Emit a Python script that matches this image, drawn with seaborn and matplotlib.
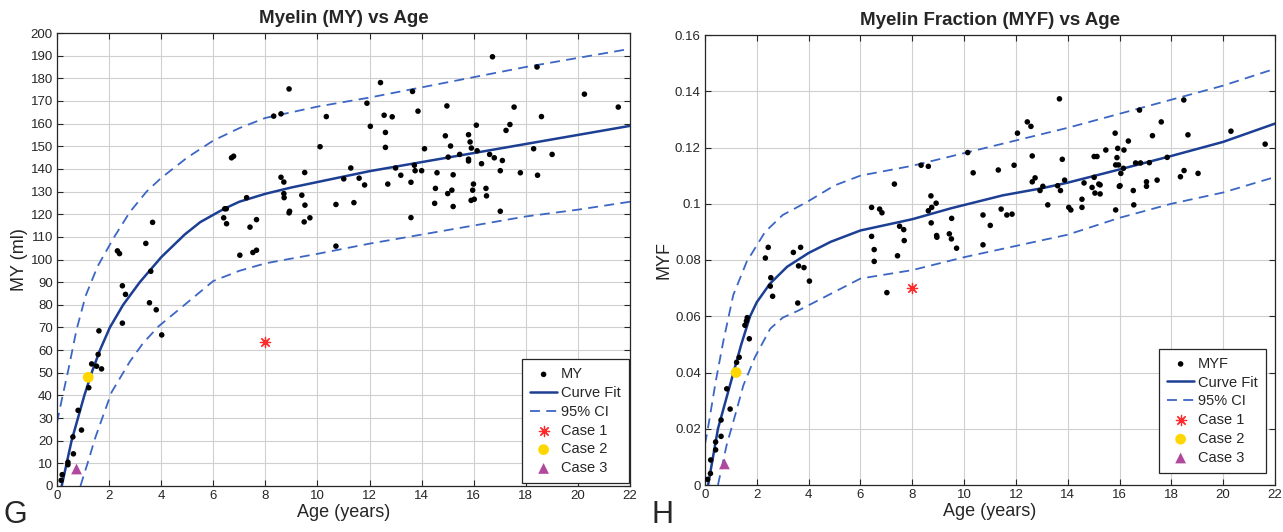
import numpy as np
import pandas as pd
import matplotlib
matplotlib.use("Agg")
import matplotlib.pyplot as plt
import seaborn as sns

# datos: edad (anos) y valores de mielina por sujeto
age_my = [0.16, 0.2, 0.42, 0.42, 0.61, 0.63, 0.81, 0.94, 1.22, 1.33, 1.52, 1.58, 1.61, 1.71,
          2.32, 2.4, 2.51, 2.51, 2.63, 3.41, 3.55, 3.6, 3.67, 3.81, 4.02,
          6.4, 6.44, 6.5, 6.51, 6.7, 6.78, 7.02, 7.28, 7.41, 7.52, 7.66, 7.66,
          8.32, 8.6, 8.6, 8.71, 8.71, 8.72, 8.91, 8.93, 8.91, 9.4, 9.51, 9.52, 9.49, 9.71,
          10.1, 10.34, 10.71, 10.71, 11.01, 11.28, 11.4, 11.6, 11.81, 11.9,
          12.03, 12.42, 12.56, 12.61, 12.61, 12.7, 12.87, 13.0, 13.2, 13.59, 13.59, 13.65,
          13.72, 13.75, 13.86, 14.0, 14.11, 14.5, 14.53, 14.59, 14.91, 14.97, 15.02, 15.0,
          15.11, 15.16, 15.21, 15.21, 15.46, 15.8, 15.8, 15.8, 15.86, 15.91, 15.9, 15.96,
          15.99, 16.02, 16.1, 16.13, 16.3, 16.47, 16.49, 16.61, 16.72, 16.79, 17.02, 17.02,
          17.1, 17.24, 17.39, 17.55, 17.79, 18.3, 18.43, 18.45, 18.6, 19.01, 20.25, 21.55]
my_vals = [2.5, 5, 9.4, 10.5, 21.7, 14.2, 33.4, 24.7, 43.4, 53.9, 52.9, 58.1, 68.5, 51.7,
           103.8, 102.6, 88.4, 71.9, 84.6, 107.1, 80.9, 94.8, 116.4, 77.8, 66.7,
           118.4, 122.4, 122.4, 115.8, 144.9, 145.6, 101.9, 127.3, 114.3, 103.1, 117.6, 104.1,
           163.3, 164.3, 136.3, 134.2, 129.1, 127.3, 175.3, 121.3, 120.6, 128.4, 138.4, 124.0, 116.6, 118.4,
           149.8, 163.1, 124.3, 105.9, 135.6, 140.4, 125.1, 135.9, 132.9, 169.0,
           158.8, 178.1, 163.7, 156.1, 149.5, 133.3, 163.0, 140.4, 137.2, 134.1, 118.5, 174.2,
           141.6, 139.2, 165.5, 139.2, 148.9, 124.8, 131.4, 138.3, 154.6, 167.8, 145.2, 129.1,
           150.1, 130.6, 137.4, 123.4, 146.4, 155.1, 143.5, 144.3, 151.9, 149.2, 126.1, 130.6,
           133.3, 126.6, 159.3, 148.0, 142.3, 131.4, 128.1, 146.4, 189.5, 144.9, 139.2, 121.3,
           143.7, 157.0, 159.6, 167.3, 138.3, 148.9, 185.0, 137.2, 163.1, 146.4, 173.0, 167.3]

age_myf = [0.1, 0.21, 0.22, 0.41, 0.41, 0.62, 0.62, 0.84, 0.97, 1.22, 1.32, 1.54, 1.6, 1.63, 1.71,
           2.33, 2.44, 2.54, 2.52, 2.61, 3.41, 3.58, 3.61, 3.69, 3.82, 4.03,
           6.43, 6.43, 6.53, 6.53, 6.74, 6.83, 7.02, 7.31, 7.43, 7.51, 7.67, 7.69,
           8.34, 8.62, 8.62, 8.72, 8.73, 8.75, 8.92, 8.94, 8.95, 9.43, 9.51, 9.52, 9.71,
           10.14, 10.35, 10.73, 10.73, 11.01, 11.32, 11.43, 11.65, 11.85, 11.93,
           12.06, 12.44, 12.58, 12.63, 12.63, 12.74, 12.93, 13.04, 13.23, 13.61, 13.68, 13.72,
           13.79, 13.88, 14.04, 14.12, 14.55, 14.55, 14.63, 14.94, 15.02, 15.02, 15.05, 15.13,
           15.2, 15.25, 15.25, 15.47, 15.83, 15.85, 15.85, 15.9, 15.93, 15.96, 15.99, 16.05,
           16.02, 16.15, 16.17, 16.34, 16.53, 16.55, 16.62, 16.77, 16.81, 17.04, 17.04, 17.15,
           17.27, 17.45, 17.61, 17.84, 18.35, 18.48, 18.49, 18.64, 19.03, 20.3, 21.62]
myf_vals = [0.002, 0.0041, 0.0089, 0.0125, 0.0153, 0.0173, 0.0231, 0.0342, 0.027, 0.0436, 0.0454,
            0.0568, 0.0583, 0.0595, 0.052,
            0.0807, 0.0845, 0.0737, 0.0707, 0.0671, 0.0827, 0.0647, 0.0779, 0.0845, 0.0773, 0.0725,
            0.0987, 0.0884, 0.0837, 0.0795, 0.0981, 0.0968, 0.0684, 0.107, 0.0815, 0.092, 0.0908, 0.0869,
            0.1137, 0.1133, 0.0975, 0.1028, 0.0932, 0.0987, 0.1002, 0.0887, 0.0881, 0.0893, 0.0875, 0.0948, 0.0842,
            0.1182, 0.111, 0.096, 0.0854, 0.0923, 0.112, 0.0981, 0.096, 0.0963, 0.1137,
            0.1251, 0.1291, 0.1275, 0.1078, 0.117, 0.1092, 0.1047, 0.1062, 0.0996, 0.1064, 0.1373, 0.1047,
            0.1158, 0.1084, 0.0987, 0.0978, 0.0987, 0.1016, 0.1074, 0.1058, 0.1094, 0.1168, 0.1038, 0.1168,
            0.107, 0.1035, 0.1067, 0.1191, 0.1251, 0.1138, 0.0978, 0.1164, 0.1197, 0.1138, 0.1062, 0.1108,
            0.1064, 0.1126, 0.1191, 0.1223, 0.1047, 0.0996, 0.1145, 0.1333, 0.1145, 0.1078, 0.1062, 0.1146,
            0.1242, 0.1084, 0.1291, 0.1165, 0.1096, 0.1369, 0.1118, 0.1245, 0.1108, 0.1258, 0.1212]

# curva ajustada e intervalos (leidos punto a punto)
fit_my_x = [0.18, 0.56, 1.05, 1.33, 1.65, 2.03, 2.54, 3.18, 4.0, 4.9, 5.5, 6.4, 7, 8, 9, 10,
            11, 12, 13, 14, 15, 16, 17, 18, 19, 20, 21, 22]
fit_my_y = [0, 20, 40, 50, 60, 70, 80, 90, 101, 111, 116.5, 122.3, 125.5, 129, 131.8, 134.2,
            136.6, 139, 141, 143, 145, 147, 149, 151, 153, 155, 157, 159]
up_my_x = [0, 0.2, 0.43, 0.75, 1.1, 1.56, 2.2, 2.8, 3.44, 4, 5, 6, 7, 8, 10, 12, 14, 16, 18, 20, 22]
up_my_y = [28, 39, 51, 69, 84, 97, 110, 121, 130, 136, 145, 152.5, 158, 162.5, 167.5, 171.5,
           176, 180.5, 185, 189, 193]
lo_my_x = [0.9, 1.2, 1.46, 1.8, 2.1, 2.8, 3.3, 3.9, 4.9, 6, 7, 8, 10, 12, 14, 16, 18, 20, 22]
lo_my_y = [0, 11, 21, 32, 41.5, 55, 63, 70.5, 80, 90.5, 95, 98.3, 102.5, 107, 111, 115, 119, 122, 125.5]

fit_myf_x = [0.12, 0.5, 1.1, 1.4, 1.74, 2.0, 2.5, 3.17, 4, 4.86, 6, 7, 8, 9.5, 11.5, 13, 14,
             16, 18, 20, 22]
fit_myf_y = [0, 0.02, 0.04, 0.05, 0.06, 0.065, 0.0715, 0.0776, 0.0825, 0.0865, 0.0905, 0.0925,
             0.0945, 0.0984, 0.103, 0.1055, 0.1075, 0.1122, 0.117, 0.122, 0.1285]
up_myf_x = [0, 0.11, 0.41, 0.7, 1.09, 1.61, 2.32, 3, 3.95, 5, 6, 8, 10, 12, 14, 16, 18, 20, 22]
up_myf_y = [0.0145, 0.02, 0.0366, 0.0508, 0.0675, 0.0794, 0.09, 0.096, 0.1007, 0.1065, 0.11,
            0.1135, 0.118, 0.1225, 0.127, 0.132, 0.137, 0.142, 0.148]
lo_myf_x = [0.5, 0.83, 1.2, 1.48, 1.93, 2.52, 3.0, 3.6, 4.86, 6, 8, 10, 12, 14, 16, 18, 20, 22]
lo_myf_y = [0, 0.014, 0.026, 0.0354, 0.0455, 0.0556, 0.0595, 0.062, 0.068, 0.0734, 0.0764,
            0.081, 0.085, 0.089, 0.095, 0.1, 0.104, 0.1095]

# casos
case_age = [8.0, 1.2, 0.75]
case_my = [63.5, 48.0, 7.5]
case_myf = [0.07, 0.04, 0.0075]

# estilo
sns.set_theme(style="whitegrid")
plt.rcParams['font.family'] = ['Liberation Sans', 'DejaVu Sans']
plt.rcParams.update({
    'xtick.direction': 'in', 'ytick.direction': 'in',
    'xtick.top': True, 'ytick.right': True,
    'xtick.bottom': True, 'ytick.left': True,
    'xtick.major.size': 4, 'ytick.major.size': 4,
    'xtick.major.width': 0.8, 'ytick.major.width': 0.8,
    'axes.edgecolor': '#262626', 'axes.linewidth': 0.9,
    'grid.color': '#d0d0d0', 'grid.linewidth': 0.8,
    'xtick.color': '#262626', 'ytick.color': '#262626',
})

FIT_COLOR = '#1c3f94'
CI_COLOR = '#3b66c4'

fig = plt.figure(figsize=(12.83, 5.32), dpi=100)
ax1 = fig.add_axes([57 / 1283, 1 - 486 / 532, (630 - 57) / 1283, (486 - 33) / 532])
ax2 = fig.add_axes([705 / 1283, 1 - 485 / 532, (1275 - 705) / 1283, (485 - 35) / 532])


def draw_panel(ax, ages, vals, fx, fy, ux, uy, lx, ly, cvals, name):
    sns.scatterplot(x=ages, y=vals, ax=ax, color='black', s=16, edgecolor='none',
                    label=name, zorder=3)
    sns.lineplot(x=fx, y=fy, ax=ax, color=FIT_COLOR, lw=1.8, label='Curve Fit', zorder=2)
    sns.lineplot(x=ux, y=uy, ax=ax, color=CI_COLOR, lw=1.3, label='95% CI', zorder=2)
    ax.lines[-1].set_dashes((5.5, 3.5))
    sns.lineplot(x=lx, y=ly, ax=ax, color=CI_COLOR, lw=1.3, zorder=2)
    ax.lines[-1].set_dashes((5.5, 3.5))
    sns.scatterplot(x=[case_age[0]], y=[cvals[0]], ax=ax, marker=(8, 2, 0), s=55,
                    color='#ff2a2a', linewidth=0.9, label='Case 1', zorder=4)
    sns.scatterplot(x=[case_age[1]], y=[cvals[1]], ax=ax, marker='o', s=60,
                    color='#ffd700', edgecolor='none', label='Case 2', zorder=4)
    sns.scatterplot(x=[case_age[2]], y=[cvals[2]], ax=ax, marker='^', s=60,
                    color='#b0489e', edgecolor='none', label='Case 3', zorder=4)
    ax.set_xlim(0, 22)
    ax.set_xticks(np.arange(0, 23, 2))
    ax.grid(True)
    ax.tick_params(labelsize=9.5, pad=3)
    ax.set_xlabel('Age (years)', fontsize=13, labelpad=1)
    for s in ax.spines.values():
        s.set_visible(True)
        s.set_color('#262626')


draw_panel(ax1, age_my, my_vals, fit_my_x, fit_my_y, up_my_x, up_my_y, lo_my_x, lo_my_y,
           case_my, 'MY')
ax1.set_ylim(0, 200)
ax1.set_yticks(np.arange(0, 201, 10))
ax1.set_ylabel('MY (ml)', fontsize=13, labelpad=2)
ax1.set_title('Myelin (MY) vs Age', fontsize=13.5, fontweight='bold', pad=7)

draw_panel(ax2, age_myf, myf_vals, fit_myf_x, fit_myf_y, up_myf_x, up_myf_y, lo_myf_x, lo_myf_y,
           case_myf, 'MYF')
ax2.set_ylim(0, 0.16)
ax2.set_yticks(np.arange(0, 0.161, 0.02))
ax2.set_yticklabels(['0', '0.02', '0.04', '0.06', '0.08', '0.1', '0.12', '0.14', '0.16'])
ax2.set_ylabel('MYF', fontsize=13, labelpad=2)
ax2.set_title('Myelin Fraction (MYF) vs Age', fontsize=13.5, fontweight='bold', pad=7)

for ax, anchor in [(ax1, (0.998, 0.006)), (ax2, (0.984, 0.027))]:
    h, l = ax.get_legend_handles_labels()
    leg = ax.legend(h, l, loc='lower right', bbox_to_anchor=anchor, borderaxespad=0,
                    fontsize=10.5, frameon=True, fancybox=False, framealpha=1,
                    edgecolor='#262626', handlelength=1.8, handletextpad=0.3,
                    labelspacing=0.33, borderpad=0.55)
    leg.get_frame().set_linewidth(0.9)

fig.text(15 / 1283, 1 - 515 / 532, 'G', fontsize=22, ha='center', va='center')
fig.text(662 / 1283, 1 - 515 / 532, 'H', fontsize=22, ha='center', va='center')

fig.savefig('out.png', dpi=100)
